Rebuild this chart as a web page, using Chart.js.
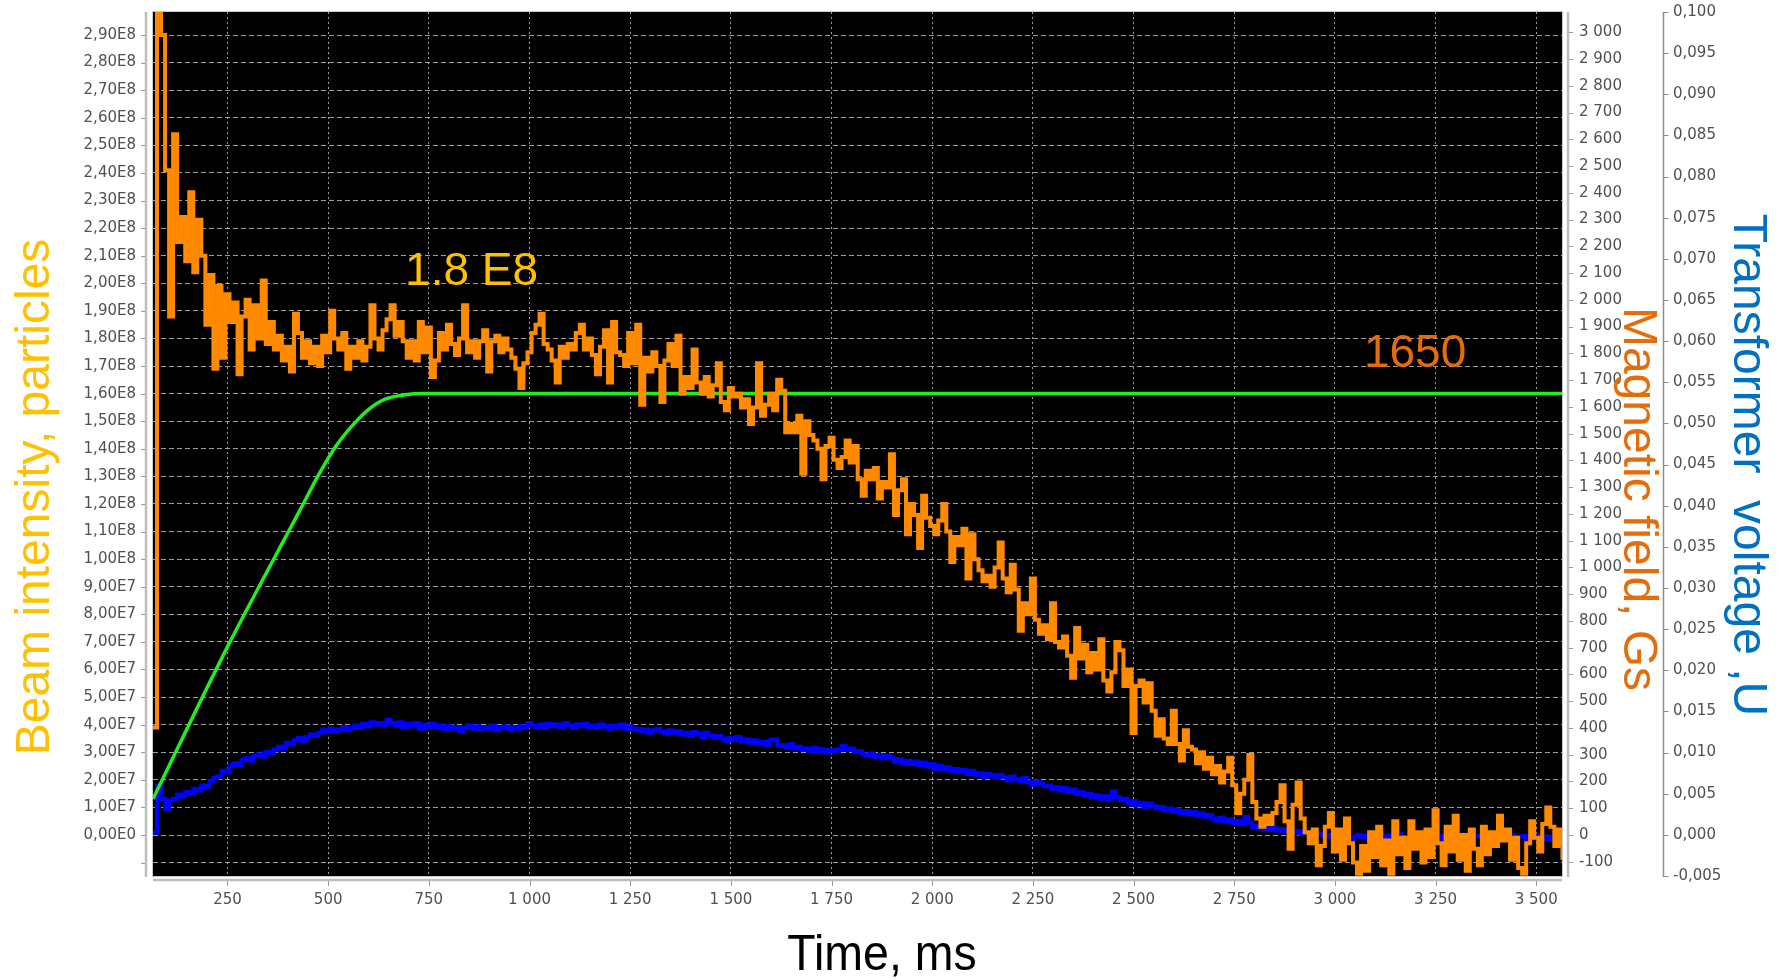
<!DOCTYPE html>
<html>
<head>
<meta charset="utf-8">
<script src="https://cdn.jsdelivr.net/npm/chart.js@4.4.1/dist/chart.umd.min.js"></script>
<style>
  html, body { margin: 0; padding: 0; background: #ffffff; }
  #wrap { position: relative; width: 1787px; height: 980px; }
</style>
</head>
<body>
<div id="wrap"><canvas id="scope"></canvas></div>
<script>
// Oscilloscope record of one acceleration cycle.
// Beam intensity and transformer voltage are sampled every 10 ms from 65 ms on.
const SAMPLE_START_MS = 65;
const SAMPLE_STEP_MS = 10;

// Beam intensity, in units of 1e7 particles
const beamIntensity = [
  3.9, 31, 29.0, 24.1, 18.8, 25.4, 21.5, 22.4, 20.8, 23.3,
  20.4, 22.3, 21.0, 18.5, 20.3, 16.9, 19.9, 17.3, 19.6, 18.6,
  19.3, 16.7, 18.8, 19.4, 17.6, 19.2, 18.0, 20.1, 17.8, 18.6,
  17.6, 18.1, 17.2, 17.7, 16.8, 18.9, 18.2, 17.3, 17.9, 17.1,
  17.7, 17.0, 18.1, 17.5, 19.0, 18.0, 17.6, 18.2, 16.9, 17.7,
  17.3, 17.9, 17.2, 17.7, 19.2, 18.0, 17.6, 18.3, 18.7, 19.2,
  18.1, 18.6, 17.9, 17.3, 17.9, 17.2, 18.6, 17.5, 18.4, 16.6,
  17.2, 18.2, 17.6, 18.5, 17.8, 17.4, 18.0, 19.2, 17.5, 17.9,
  17.3, 17.9, 18.3, 16.8, 17.9, 18.1, 17.5, 18.0, 17.6, 17.3,
  16.9, 16.2, 17.1, 17.5, 18.2, 18.5, 18.9, 17.8, 17.6, 17.2,
  16.4, 17.7, 17.3, 17.8, 17.6, 18.2, 18.5, 17.6, 18.0, 17.4,
  16.7, 17.7, 18.3, 16.4, 18.6, 17.5, 17.4, 17.0, 18.2, 17.1,
  18.5, 15.6, 17.3, 16.8, 17.5, 17.0, 15.7, 17.2, 17.8, 17.0,
  18.1, 16.0, 16.6, 16.2, 17.6, 16.4, 16.0, 16.6, 15.9, 16.3,
  17.1, 15.7, 15.4, 16.2, 15.9, 16.0, 15.5, 15.8, 14.9, 15.5,
  17.1, 15.2, 15.6, 16.0, 15.4, 16.5, 16.1, 14.6, 14.9, 14.6,
  15.2, 13.1, 15.0, 14.5, 14.3, 14.0, 12.9, 14.1, 14.4, 13.6,
  13.3, 13.7, 14.3, 13.5, 14.1, 12.9, 12.3, 13.2, 12.9, 13.3,
  12.2, 12.8, 12.6, 13.8, 11.6, 12.5, 12.9, 10.9, 12.0, 11.6,
  10.4, 12.3, 11.5, 11.2, 10.9, 11.4, 12.0, 11.0, 9.9, 10.8,
  10.5, 11.1, 9.3, 10.9, 10.0, 9.6, 9.2, 9.4, 9.0, 9.7,
  10.6, 9.3, 8.8, 9.8, 8.9, 7.4, 8.4, 8.0, 9.3, 7.8,
  7.3, 7.6, 7.1, 8.4, 7.0, 6.8, 7.2, 6.5, 5.7, 7.5,
  6.4, 6.9, 5.9, 6.6, 6.0, 7.1, 5.6, 5.2, 5.9, 7.0,
  6.7, 5.4, 6.0, 3.7, 5.4, 5.6, 4.8, 5.5, 4.5, 3.6,
  4.2, 3.5, 3.3, 4.5, 3.3, 2.7, 3.8, 3.2, 3.1, 2.6,
  3.0, 2.4, 2.8, 2.2, 2.5, 1.9, 2.3, 2.8, 1.8, 0.8,
  1.5, 2.0, 2.9, 1.2, 0.6, 0.3, 0.7, 0.4, 0.8, 1.2,
  1.8, 0.5, -0.5, 1.1, 1.9, 0.6, 0.1, -0.3, 0.2, -1.1,
  -0.4, 0.3, 0.8, -0.6, 0.2, -0.9, 0.6, -0.3, -1.0, -1.4,
  -0.4, -1.3, 0.1, -0.8, 0.3, -1.1, -0.2, -1.4, 0.5, -0.7,
  -0.1, -1.2, 0.5, -0.5, 0.1, -1.0, 0.2, -0.8, 0.9, -0.3,
  -1.1, 0.3, -0.6, 0.7, -0.9, 0.0, -1.3, 0.2, -0.5, -1.1,
  0.3, -0.7, 0.1, -0.4, 0.7, -0.2, 0.2, -0.9, -0.1, -1.2,
  -1.4, -0.3, 0.5, -0.1, -0.6, 0.4, 1.0, 0.3, -0.4, 0.2,
  -0.9
];

// Transformer voltage, mV
const transformerVoltage = [
  0.3, 6.0, 4.4, 3.1, 4.2, 4.4, 4.9, 4.7, 5.2, 5.0,
  5.6, 5.4, 6.0, 5.8, 6.5, 6.9, 7.1, 7.8, 7.6, 8.4,
  8.7, 8.5, 9.1, 9.3, 9.0, 9.6, 9.8, 9.5, 10.1, 9.9,
  10.4, 10.7, 10.5, 11.2, 11.0, 11.5, 11.8, 11.4, 11.9, 12.2,
  12.0, 12.4, 12.8, 12.5, 12.9, 12.6, 12.8, 13.1, 12.7, 13.0,
  13.3, 13.0, 13.5, 13.2, 13.7, 13.4, 13.6, 13.3, 14.0, 13.6,
  13.3, 13.7, 13.1, 13.5, 13.2, 13.6, 12.9, 13.4, 13.1, 13.5,
  13.0, 13.3, 12.8, 13.2, 12.9, 13.1, 12.6, 13.0, 13.3, 12.9,
  13.2, 12.8, 13.1, 12.9, 13.3, 12.7, 13.0, 13.2, 12.8, 13.1,
  12.9, 13.2, 13.0, 13.6, 13.3, 13.1, 13.4, 13.0, 13.5, 13.2,
  13.4, 13.1, 13.6, 13.3, 13.0, 13.4, 13.2, 13.5, 13.1, 13.3,
  13.0, 13.4, 13.2, 12.9, 13.3, 13.1, 13.4, 12.9, 13.2, 12.8,
  12.9, 12.6, 12.8, 12.4, 12.7, 12.9, 12.5, 12.3, 12.7, 12.4,
  12.6, 12.2, 12.4, 12.0, 12.5, 12.3, 11.9, 12.4, 12.1, 11.8,
  12.0, 11.7, 11.4, 11.8, 11.5, 11.9, 11.3, 11.6, 11.2, 11.5,
  11.1, 11.3, 10.9, 11.5, 11.6, 10.8, 10.9, 10.6, 11.0, 10.5,
  10.7, 10.3, 10.5, 10.2, 10.6, 10.1, 10.4, 10.0, 10.3, 10.2,
  10.4, 10.8, 10.3, 10.5, 10.1, 10.2, 9.8, 9.6, 9.9, 9.5,
  9.7, 9.3, 9.6, 9.4, 8.9, 9.2, 8.7, 9.0, 8.6, 8.9,
  8.5, 8.8, 8.3, 8.6, 8.0, 8.4, 7.9, 8.2, 7.7, 8.0,
  7.6, 7.9, 7.4, 7.8, 7.3, 7.5, 7.0, 7.4, 7.2, 6.9,
  7.3, 7.0, 6.6, 7.1, 6.8, 6.5, 6.9, 6.4, 6.1, 6.5,
  6.2, 5.9, 6.0, 5.6, 5.8, 5.4, 5.7, 5.2, 5.5, 5.0,
  5.2, 4.8, 5.0, 4.5, 4.8, 4.4, 4.7, 4.3, 5.3, 4.6,
  4.2, 4.4, 3.8, 4.1, 3.6, 3.9, 3.4, 3.8, 3.5, 3.2,
  3.4, 3.0, 3.2, 2.8, 3.1, 2.6, 2.9, 2.5, 2.8, 2.4,
  2.6, 2.2, 2.4, 2.0, 1.7, 2.1, 1.6, 1.9, 1.4, 1.7,
  1.3, 2.2, 1.5, 0.9, 1.1, 0.7, 1.0, 0.6, 0.8, 0.5,
  0.7, 0.4, 0.6, 0.2, 0.5, 0.1, 0.3, 0.0, 0.2, -0.1,
  0.1, -0.2, 0.0, -0.4, -0.1, -0.3, 0.1, -0.5, -0.2, 0.0,
  -0.3, -0.1, -0.5, 0.0, -0.2, -0.4, -0.1, -0.6, -0.2, 0.1,
  -0.3, -0.5, -0.1, -0.2, -0.6, -0.3, 0.0, -0.4, -0.2, -0.5,
  -0.1, -0.3, -0.6, -0.2, -0.4, 0.0, -0.3, -0.5, -0.2, -0.1,
  -0.4, -0.2, -0.5, -0.1, -0.3, -0.6, -0.2, 0.0, -0.4, -0.3,
  -0.1, -0.5, -0.2, -0.4, 0.0, -0.3, -0.6, -0.2, -0.1, -0.4,
  -0.3
];

// Magnetic field ramp, Gs (breakpoints of the programmed curve)
const fieldTimes  = [65, 250, 430, 480, 520, 560, 600, 640, 690, 740, 3564];
const fieldValues = [135, 703, 1214, 1356, 1455, 1530, 1590, 1628, 1645, 1650, 1650];

// Axis ticks and their printed labels
const timeTicks = [250, 500, 750, 1000, 1250, 1500, 1750, 2000, 2250, 2500, 2750, 3000, 3250, 3500];
const timeTickLabels = ['250', '500', '750', '1 000', '1 250', '1 500', '1 750', '2 000',
  '2 250', '2 500', '2 750', '3 000', '3 250', '3 500'];

const beamTicks = [-1, 0, 1, 2, 3, 4, 5, 6, 7, 8, 9, 10, 11, 12, 13, 14, 15, 16, 17, 18, 19,
  20, 21, 22, 23, 24, 25, 26, 27, 28, 29];
const beamTickLabels = ['', '0,00E0', '1,00E7', '2,00E7', '3,00E7', '4,00E7', '5,00E7', '6,00E7',
  '7,00E7', '8,00E7', '9,00E7', '1,00E8', '1,10E8', '1,20E8', '1,30E8', '1,40E8', '1,50E8',
  '1,60E8', '1,70E8', '1,80E8', '1,90E8', '2,00E8', '2,10E8', '2,20E8', '2,30E8', '2,40E8',
  '2,50E8', '2,60E8', '2,70E8', '2,80E8', '2,90E8'];

const fieldTicks = [-100, 0, 100, 200, 300, 400, 500, 600, 700, 800, 900, 1000, 1100, 1200,
  1300, 1400, 1500, 1600, 1700, 1800, 1900, 2000, 2100, 2200, 2300, 2400, 2500, 2600, 2700,
  2800, 2900, 3000];
const fieldTickLabels = ['-100', '0', '100', '200', '300', '400', '500', '600', '700', '800',
  '900', '1 000', '1 100', '1 200', '1 300', '1 400', '1 500', '1 600', '1 700', '1 800',
  '1 900', '2 000', '2 100', '2 200', '2 300', '2 400', '2 500', '2 600', '2 700', '2 800',
  '2 900', '3 000'];

const voltTicks = [-5, 0, 5, 10, 15, 20, 25, 30, 35, 40, 45, 50, 55, 60, 65, 70, 75, 80, 85,
  90, 95, 100];
const voltTickLabels = ['-0,005', '0,000', '0,005', '0,010', '0,015', '0,020', '0,025',
  '0,030', '0,035', '0,040', '0,045', '0,050', '0,055', '0,060', '0,065', '0,070', '0,075',
  '0,080', '0,085', '0,090', '0,095', '0,100'];

// ---------------------------------------------------------------------------
const sampled = (values) => values.map((v, i) => ({ x: SAMPLE_START_MS + i * SAMPLE_STEP_MS, y: v }));
const beamPoints = sampled(beamIntensity);
const voltPoints = sampled(transformerVoltage);
const fieldPoints = fieldTimes.map((t, i) => ({ x: t, y: fieldValues[i] }));

const TICK_FONT = { family: 'DejaVu Sans', size: 15 };
const TICK_COLOR = '#505050';
const GRID_COLOR = 'rgba(185,185,185,0.85)';

const fixedTicks = (list) => (scale) => { scale.ticks = list.map(value => ({ value })); };
const labelFrom = (list, labels) => (value) => {
  const k = list.indexOf(value);
  return k < 0 ? '' : labels[k];
};
// fixed axis box size, no extra room reserved for overhanging end labels
const fixedBox = (w, h) => (s) => {
  if (w) s.width = w;
  if (h) s.height = h;
  s.paddingTop = 0; s.paddingBottom = 0; s.paddingLeft = 0; s.paddingRight = 0;
};

// Black screen, axis rails, titles and value notes
const scopeDecor = {
  id: 'scopeDecor',
  beforeDraw(chart) {
    const { ctx, chartArea: a } = chart;
    ctx.save();
    ctx.fillStyle = '#000000';
    ctx.fillRect(a.left, a.top, a.right - a.left, a.bottom - a.top);
    ctx.restore();
  },
  afterDraw(chart) {
    const { ctx, chartArea: a, scales } = chart;
    const { x, yBeam, yField, yVolt } = scales;
    ctx.save();

    // plot frame
    ctx.strokeStyle = '#c8c8c8';
    ctx.lineWidth = 1;
    ctx.strokeRect(a.left - 0.5, a.top - 0.5, a.right - a.left + 1, a.bottom - a.top + 1);

    // left rail (beam)
    const railL = a.left - 7;
    ctx.strokeStyle = '#bdbdbd';
    ctx.lineWidth = 2.5;
    ctx.beginPath(); ctx.moveTo(railL, a.top); ctx.lineTo(railL, a.bottom + 1); ctx.stroke();
    ctx.lineWidth = 1;
    ctx.strokeStyle = '#9a9a9a';
    beamTicks.forEach(v => {
      const py = Math.round(yBeam.getPixelForValue(v)) + 0.5;
      ctx.beginPath(); ctx.moveTo(railL - 5, py); ctx.lineTo(railL - 1, py); ctx.stroke();
    });

    // right rail (field)
    const railF = a.right + 6;
    ctx.strokeStyle = '#bdbdbd';
    ctx.lineWidth = 2.5;
    ctx.beginPath(); ctx.moveTo(railF, a.top); ctx.lineTo(railF, a.bottom + 1); ctx.stroke();
    ctx.lineWidth = 1;
    ctx.strokeStyle = '#9a9a9a';
    fieldTicks.forEach(v => {
      const py = Math.round(yField.getPixelForValue(v)) + 0.5;
      ctx.beginPath(); ctx.moveTo(railF + 1, py); ctx.lineTo(railF + 5, py); ctx.stroke();
    });

    // outer right rail (voltage)
    const railV = yVolt.left + 0.5;
    ctx.strokeStyle = '#8c8c8c';
    ctx.lineWidth = 1.5;
    ctx.beginPath(); ctx.moveTo(railV, a.top); ctx.lineTo(railV, a.bottom + 1); ctx.stroke();
    ctx.lineWidth = 1;
    voltTicks.forEach(v => {
      const py = Math.round(yVolt.getPixelForValue(v)) + 0.5;
      ctx.beginPath(); ctx.moveTo(railV, py); ctx.lineTo(railV + 5, py); ctx.stroke();
    });

    // bottom rail (time)
    const railT = a.bottom + 4;
    ctx.strokeStyle = '#bdbdbd';
    ctx.lineWidth = 2.5;
    ctx.beginPath(); ctx.moveTo(a.left, railT); ctx.lineTo(a.right, railT); ctx.stroke();
    ctx.lineWidth = 1;
    ctx.strokeStyle = '#9a9a9a';
    timeTicks.forEach(v => {
      const px = Math.round(x.getPixelForValue(v)) + 0.5;
      ctx.beginPath(); ctx.moveTo(px, railT + 1); ctx.lineTo(px, railT + 6); ctx.stroke();
    });

    // axis titles
    ctx.textAlign = 'center';
    ctx.textBaseline = 'alphabetic';
    ctx.font = '48px "Liberation Sans", Arial, sans-serif';

    ctx.save();
    ctx.fillStyle = '#FFC000';
    ctx.translate(49, 497);
    ctx.rotate(-Math.PI / 2);
    ctx.fillText('Beam intensity, particles', 0, 0);
    ctx.restore();

    ctx.save();
    ctx.fillStyle = '#E46C0A';
    ctx.translate(1624, 499);
    ctx.rotate(Math.PI / 2);
    ctx.fillText('Magnetic field, Gs', 0, 0);
    ctx.restore();

    ctx.save();
    ctx.fillStyle = '#0070C0';
    ctx.translate(1734, 465);
    ctx.rotate(Math.PI / 2);
    ctx.fillText('Transformer  voltage ,U', 0, 0);
    ctx.restore();

    ctx.save();
    ctx.fillStyle = '#000000';
    ctx.font = '50px "Liberation Sans Narrow", "Liberation Sans", Arial, sans-serif';
    ctx.translate(882, 970);
    ctx.scale(0.93, 1);
    ctx.fillText('Time, ms', 0, 0);
    ctx.restore();

    // value notes
    ctx.textAlign = 'left';
    ctx.font = '46px "Liberation Sans", Arial, sans-serif';
    ctx.fillStyle = '#FFC000';
    ctx.fillText('1.8 E8', x.getPixelForValue(691), yBeam.getPixelForValue(19.94));
    ctx.fillStyle = '#E46C0A';
    ctx.fillText('1650', x.getPixelForValue(3072), yField.getPixelForValue(1750));

    ctx.restore();
  }
};

new Chart(document.getElementById('scope'), {
  type: 'line',
  data: {
    datasets: [
      {
        label: 'Beam intensity',
        data: beamPoints,
        yAxisID: 'yBeam',
        borderColor: '#FF8A00',
        borderWidth: 4,
        stepped: true,
        pointRadius: 0,
        fill: false
      },
      {
        label: 'Magnetic field',
        data: fieldPoints,
        yAxisID: 'yField',
        borderColor: '#1EF01E',
        borderWidth: 3.5,
        cubicInterpolationMode: 'monotone',
        pointRadius: 0,
        fill: false
      },
      {
        label: 'Transformer voltage',
        data: voltPoints,
        yAxisID: 'yVolt',
        borderColor: '#0000FF',
        borderWidth: 4,
        stepped: true,
        pointRadius: 0,
        fill: false
      }
    ]
  },
  options: {
    responsive: true,
    maintainAspectRatio: false,
    animation: false,
    devicePixelRatio: 1,
    layout: { padding: { top: 12, left: 0, right: 0, bottom: 0 } },
    plugins: {
      legend: { display: false },
      tooltip: { enabled: false }
    },
    scales: {
      x: {
        type: 'linear',
        min: 65,
        max: 3564,
        afterBuildTicks: fixedTicks(timeTicks),
        afterFit: fixedBox(0, 104),
        ticks: {
          callback: labelFrom(timeTicks, timeTickLabels),
          autoSkip: false,
          maxRotation: 0,
          padding: 15,
          color: TICK_COLOR,
          font: TICK_FONT
        },
        grid: { color: GRID_COLOR, lineWidth: 1, drawTicks: false },
        border: { display: false, dash: [2, 3] }
      },
      yBeam: {
        type: 'linear',
        position: 'left',
        min: -1.486,
        max: 29.834,
        afterBuildTicks: fixedTicks(beamTicks),
        afterFit: fixedBox(153, 0),
        ticks: {
          callback: labelFrom(beamTicks, beamTickLabels),
          autoSkip: false,
          padding: 17,
          color: TICK_COLOR,
          font: TICK_FONT
        },
        grid: { color: GRID_COLOR, lineWidth: 1, drawTicks: false },
        border: { display: false, dash: [5, 3] }
      },
      yField: {
        type: 'linear',
        position: 'right',
        weight: 0,
        min: -153.2,
        max: 3075.6,
        afterBuildTicks: fixedTicks(fieldTicks),
        afterFit: fixedBox(101, 0),
        ticks: {
          callback: labelFrom(fieldTicks, fieldTickLabels),
          autoSkip: false,
          padding: 17,
          color: TICK_COLOR,
          font: TICK_FONT
        },
        grid: { display: false, drawTicks: false },
        border: { display: false }
      },
      yVolt: {
        type: 'linear',
        position: 'right',
        weight: 1,
        min: -5,
        max: 100,
        afterBuildTicks: fixedTicks(voltTicks),
        afterFit: fixedBox(124, 0),
        ticks: {
          callback: labelFrom(voltTicks, voltTickLabels),
          autoSkip: false,
          padding: 10,
          color: TICK_COLOR,
          font: TICK_FONT
        },
        grid: { display: false, drawTicks: false },
        border: { display: false }
      }
    }
  },
  plugins: [scopeDecor]
});
</script>
</body>
</html>
